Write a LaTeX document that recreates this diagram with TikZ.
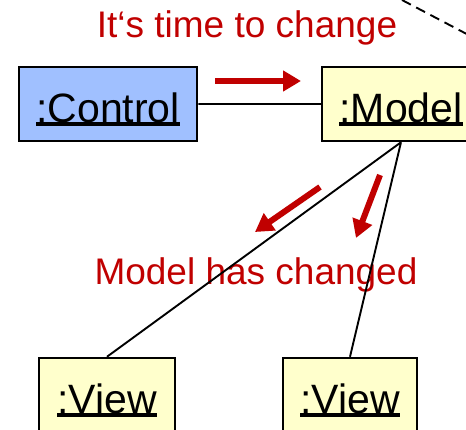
\documentclass[tikz,border=0pt]{standalone}
\usepackage{fontspec}
\setmainfont{Liberation Sans}
\usetikzlibrary{arrows.meta}
\definecolor{ctrlblue}{RGB}{160,192,255}
\definecolor{objyellow}{RGB}{255,255,204}
\definecolor{msgred}{RGB}{192,0,0}
\newcommand{\objname}[1]{\setbox0=\hbox{#1}\rlap{\rule[-0.1em]{\wd0}{0.09em}}\box0}

\begin{document}
\begin{tikzpicture}[x=1pt, y=-1pt,
    obj/.style={draw, line width=2.5pt, minimum height=74pt, inner sep=0pt,
      text height=40pt, text depth=4pt, font=\fontsize{41}{41}\selectfont},
    link/.style={line width=1.9pt},
    msg/.style={msgred, line width=6pt, -{Triangle[length=18pt,width=20pt]}},
    note/.style={msgred, anchor=base, font=\fontsize{37}{37}\selectfont}]
            \useasboundingbox (0,0) rectangle (466,429);
            \clip (0,0) rectangle (466,429);
            \node[note](timeText) at (247,37) {It‘s time to change};
            \node[note](changedText) at (256,284) {Model has changed};
            \node[obj, fill=ctrlblue, minimum width=178pt](Control) at (108,104) {\objname{:Control}};
            \node[obj, fill=objyellow, minimum width=158pt](Model) at (401,104) {\objname{:Model}};
            \node[obj, fill=objyellow, minimum width=136pt](View1) at (107,395) {\objname{:View}};
            \node[obj, fill=objyellow, minimum width=134pt](View2) at (350,395) {\objname{:View}};
            \draw[link] (Control) -- (Model)
                  (Model.south) -- (View1.north) (Model.south) -- (View2.north);
            \coordinate (dashA) at (402,0);
            \coordinate (dashB) at (480,41);
            \draw[link, dash pattern=on 10pt off 6pt] (dashA) -- (dashB);
            \coordinate (sendA) at (215,81);
            \coordinate (sendB) at (301,81);
            \coordinate (notifyA1) at (320,187);
            \coordinate (notifyB1) at (255,232);
            \coordinate (notifyA2) at (380,175);
            \coordinate (notifyB2) at (356,238);
            \draw[msg] (sendA) -- (sendB);
            \draw[msg] (notifyA1) -- (notifyB1);
            \draw[msg] (notifyA2) -- (notifyB2);
        \end{tikzpicture}
\end{document}
